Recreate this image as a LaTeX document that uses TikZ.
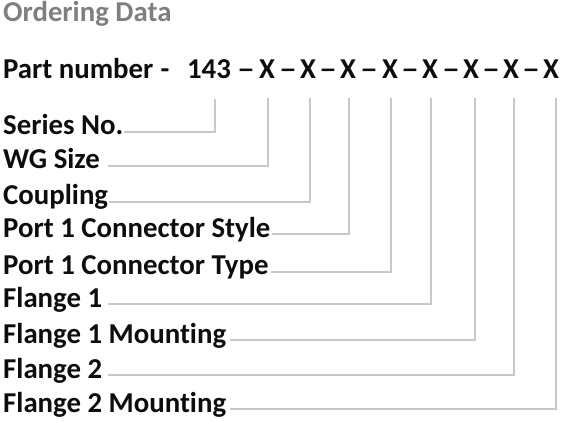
\documentclass[tikz,border=0pt]{standalone}
\usepackage{fontspec}
\setmainfont{Carlito}[Ligatures=NoCommon]
\usetikzlibrary{positioning}
\definecolor{ttlgray}{RGB}{127,127,127}
\definecolor{txtblk}{RGB}{13,13,13}
\definecolor{leadgray}{RGB}{200,200,200}
\newcommand{\sepdash}{\scalebox{1.25}[1]{--}}

\begin{document}
\begin{tikzpicture}[x=1pt, y=-1pt,
    fld/.style={font=\fontsize{28.8}{34}\selectfont\bfseries, text=txtblk,
                inner sep=0pt, anchor=base west},
    pn/.style={font=\fontsize{28.8}{34}\selectfont\bfseries, text=txtblk,
               inner sep=0pt, anchor=base},
    lead/.style={draw=leadgray, line width=1.3pt}]

    \useasboundingbox (0,0) rectangle (565,422);

    % heading
    \node[fld, text=ttlgray] (title) at (3,22) {Ordering Data};

    % part number string
    \node[fld] (pnum)  at (3,79)   {Part number};
    \node[pn]  (hy)    at (165,79) {-};
    \node[pn]  (ser)   at (209,79) {143};
    \node[pn]  (d1)    at (246,79) {\sepdash};
    \node[pn]  (x1)    at (267,79) {X};
    \node[pn]  (d2)    at (288,79) {\sepdash};
    \node[pn]  (x2)    at (308,79) {X};
    \node[pn]  (d3)    at (328,79) {\sepdash};
    \node[pn]  (x3)    at (348,79) {X};
    \node[pn]  (d4)    at (369,79) {\sepdash};
    \node[pn]  (x4)    at (390,79) {X};
    \node[pn]  (d5)    at (410,79) {\sepdash};
    \node[pn]  (x5)    at (430,79) {X};
    \node[pn]  (d6)    at (451,79) {\sepdash};
    \node[pn]  (x6)    at (471,79) {X};
    \node[pn]  (d7)    at (491,79) {\sepdash};
    \node[pn]  (x7)    at (511,79) {X};
    \node[pn]  (d8)    at (531,79) {\sepdash};
    \node[pn]  (x8)    at (551,79) {X};

    % field names
    \node[fld] (series)  at (3,135) {Series No.};
    \node[fld] (wg)      at (3,169) {WG Size};
    \node[fld] (coup)    at (3,205) {Coupling};
    \node[fld] (pstyle)  at (3,237) {Port 1 Connector Style};
    \node[fld] (ptype)   at (3,275) {Port 1 Connector Type};
    \node[fld] (fl1)     at (3,307) {Flange 1};
    \node[fld] (fl1m)    at (3,343) {Flange 1 Mounting};
    \node[fld] (fl2)     at (3,378) {Flange 2};
    \node[fld] (fl2m)    at (3,412) {Flange 2 Mounting};

    % leader lines
    \draw[lead] ([xshift=6pt,yshift=-20pt]ser.south) |- ([xshift=1pt,yshift=3pt]series.base east);
    \draw[lead] ([xshift=1pt,yshift=-19pt]x1.south)  |- ([xshift=8pt,yshift=3pt]wg.base east);
    \draw[lead] ([xshift=2pt,yshift=-19pt]x2.south)  |- ([xshift=1pt,yshift=3pt]coup.base east);
    \draw[lead] ([xshift=1pt,yshift=-19pt]x3.south)  |- ([xshift=1pt,yshift=3pt]pstyle.base east);
    \draw[lead] ([xshift=1pt,yshift=-19pt]x4.south)  |- ([xshift=2pt,yshift=3pt]ptype.base east);
    \draw[lead] ([xshift=1pt,yshift=-19pt]x5.south)  |- ([xshift=6pt,yshift=3pt]fl1.base east);
    \draw[lead] ([xshift=4pt,yshift=-19pt]x6.south)  |- ([xshift=4pt,yshift=3pt]fl1m.base east);
    \draw[lead] ([xshift=3pt,yshift=-19pt]x7.south)  |- ([xshift=6pt,yshift=3pt]fl2.base east);
    \draw[lead] ([xshift=5pt,yshift=-19pt]x8.south)  |- ([xshift=4pt,yshift=3pt]fl2m.base east);
\end{tikzpicture}
\end{document}
